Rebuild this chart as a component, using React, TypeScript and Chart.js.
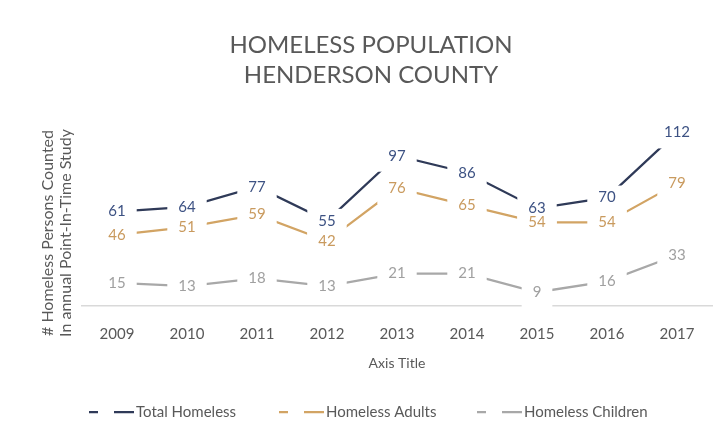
import React, { useEffect, useRef } from "react";
import { Chart, registerables } from "chart.js";

Chart.register(...registerables);

const years = ["2009", "2010", "2011", "2012", "2013", "2014", "2015", "2016", "2017"];
const totalHomeless = [61, 64, 77, 55, 97, 86, 63, 70, 112];
const homelessAdults = [46, 51, 59, 42, 76, 65, 54, 54, 79];
const homelessChildren = [15, 13, 18, 13, 21, 21, 9, 16, 33];
const seriesNames = ["Total Homeless", "Homeless Adults", "Homeless Children"];
const titleLines = ["HOMELESS POPULATION", "HENDERSON COUNTY"];
const yTitleLines = ["# Homeless Persons Counted", "In annual Point-In-Time Study"];
const xTitle = "Axis Title";

const lineColors = ["#2f3a58", "#d2a464", "#a8a8a8"];
const labelColors = ["#3d5283", "#c99a5e", "#a0a0a0"];
const FONT = "Lato, 'Open Sans', sans-serif";

const customPlugin = {
  id: "custom",
  afterDatasetsDraw(chart: any) {
    const ctx = chart.ctx;
    ctx.save();
    ctx.font = `15px ${FONT}`;
    ctx.textAlign = "center";
    ctx.textBaseline = "middle";
    const items: any[] = [];
    chart.data.datasets.forEach((ds: any, di: number) => {
      const meta = chart.getDatasetMeta(di);
      meta.data.forEach((pt: any, i: number) => {
        items.push({ x: pt.x, y: pt.y, text: String(ds.data[i]), color: labelColors[di] });
      });
    });
    ctx.fillStyle = "#ffffff";
    items.forEach((it) => {
      const w = ctx.measureText(it.text).width + 22;
      ctx.fillRect(it.x - w / 2, it.y - 12, w, 28);
    });
    items.forEach((it) => {
      ctx.fillStyle = it.color;
      ctx.fillText(it.text, it.x, it.y);
    });
    ctx.restore();
  },
  afterDraw(chart: any) {
    const ctx = chart.ctx;
    ctx.save();
    // Title
    ctx.fillStyle = "#595959";
    ctx.font = `24px ${FONT}`;
    ctx.textAlign = "center";
    ctx.textBaseline = "middle";
    ctx.fillText(titleLines[0], 371, 45);
    ctx.fillText(titleLines[1], 371, 75);
    // Y title
    ctx.font = `16px ${FONT}`;
    ctx.translate(0, 233);
    ctx.rotate(-Math.PI / 2);
    ctx.fillText(yTitleLines[0], 0, 48);
    ctx.fillText(yTitleLines[1], 0, 66);
    ctx.restore();
    // Legend
    ctx.save();
    ctx.font = `15px ${FONT}`;
    ctx.textAlign = "left";
    ctx.textBaseline = "middle";
    const legendX = [89, 279, 477];
    const ly = 412;
    seriesNames.forEach((name, i) => {
      const x = legendX[i];
      ctx.strokeStyle = lineColors[i];
      ctx.lineWidth = 2.25;
      ctx.beginPath();
      ctx.moveTo(x, ly);
      ctx.lineTo(x + 9, ly);
      ctx.moveTo(x + 25, ly);
      ctx.lineTo(x + 45, ly);
      ctx.stroke();
      ctx.fillStyle = "#595959";
      ctx.fillText(name, x + 47, ly);
    });
    ctx.restore();
  },
};

export default function App() {
  const ref = useRef<HTMLCanvasElement>(null);
  useEffect(() => {
    document.body.style.margin = "0";
    const chart = new Chart(ref.current!, {
      type: "line",
      data: {
        labels: years,
        datasets: [totalHomeless, homelessAdults, homelessChildren].map((d, i) => ({
          label: seriesNames[i],
          data: d,
          borderColor: lineColors[i],
          backgroundColor: lineColors[i],
          borderWidth: 2.25,
          pointRadius: 0,
          tension: 0,
        })),
      },
      options: {
        animation: false,
        responsive: false,
        layout: { padding: { top: 120, left: 82, right: 9, bottom: 71 } },
        plugins: { legend: { display: false }, title: { display: false }, tooltip: { enabled: false } },
        scales: {
          x: {
            offset: true,
            grid: { display: false, drawTicks: false },
            border: { display: true, color: "#d9d9d9", width: 1.5 },
            ticks: { color: "#595959", font: { family: FONT, size: 15 }, padding: 19 },
            title: { display: true, text: xTitle, color: "#595959", font: { family: FONT, size: 14 }, padding: { top: -7, bottom: 0 } },
          },
          y: {
            display: false,
            min: 0,
            max: 120,
          },
        },
      },
      plugins: [customPlugin],
    });
    return () => chart.destroy();
  }, []);
  return <canvas ref={ref} width={721} height={443} style={{ display: "block" }} />;
}
